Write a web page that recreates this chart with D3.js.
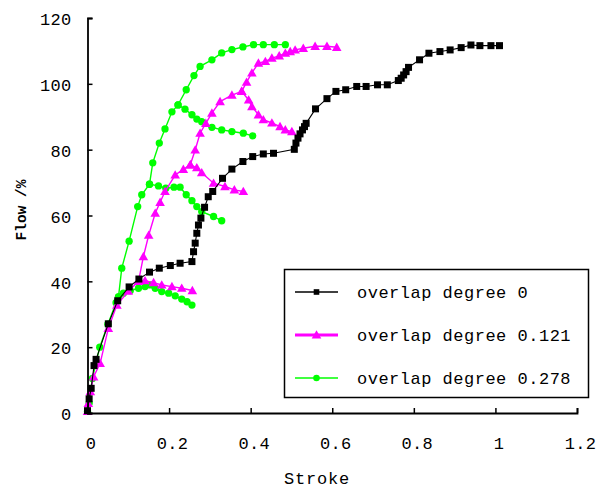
<!DOCTYPE html>
<html><head><meta charset="utf-8">
<script src="https://cdn.jsdelivr.net/npm/d3@7"></script>
<style>
body{margin:0;background:#fff;}
svg{display:block;}
text{font-family:"Liberation Mono","DejaVu Sans Mono",monospace;fill:#000;}
</style></head>
<body><svg id="c" width="610" height="488"></svg>
<script>
// ---- data ----
const xTicks = [0, 0.2, 0.4, 0.6, 0.8, 1, 1.2];
const yTicks = [0, 20, 40, 60, 80, 100, 120];
const seriesNames = ["overlap degree 0", "overlap degree 0.121", "overlap degree 0.278"];

const black0 = [[0,0.7],[0.004,4.3],[0.009,7.5],[0.016,14.4],[0.021,16.3],[0.051,27.1],[0.074,34.1],[0.102,38.3],[0.126,40.7],[0.152,42.8],[0.176,44],[0.203,44.8],[0.227,45.5],[0.256,46],[0.26,49],[0.264,51.6],[0.268,54.6],[0.272,57.1],[0.278,59.2],[0.287,62.5],[0.296,65.7],[0.307,67.3],[0.331,71.3],[0.354,74.1],[0.381,76.4],[0.405,77.9],[0.431,78.7],[0.456,78.9],[0.507,80.1],[0.511,82],[0.516,83.5],[0.521,84.8],[0.527,86],[0.532,87],[0.536,88],[0.559,92.4],[0.587,95.5],[0.609,97.7],[0.633,98.2],[0.66,99.2],[0.683,99.2],[0.711,99.7],[0.735,99.7],[0.762,101],[0.769,101.7],[0.775,102.7],[0.781,103.7],[0.787,105],[0.814,107.3],[0.837,109.3],[0.864,109.8],[0.889,110.3],[0.916,111],[0.94,111.8],[0.962,111.6],[0.989,111.6],[1.01,111.6]];

const magentaMain = [[0,0.5],[0.002,2.9],[0.007,6.5],[0.015,11],[0.031,15.1],[0.051,25.7],[0.072,32.8],[0.1,37],[0.125,40],[0.137,47.5],[0.15,54],[0.166,60.7],[0.178,64],[0.19,67.3],[0.215,72.3],[0.235,74],[0.252,75.4],[0.264,79.9],[0.276,85],[0.29,88],[0.305,91.1],[0.325,94.6],[0.354,96.6],[0.378,97.7],[0.39,100.5],[0.403,103.3],[0.419,106.3],[0.436,106.8],[0.452,107.8],[0.47,108.5],[0.485,109.3],[0.497,109.8],[0.509,110.3],[0.529,110.8],[0.558,111.4],[0.587,111.4],[0.611,111.1]];
const magentaLow = [[0.125,40],[0.141,40.2],[0.162,39.6],[0.182,38.9],[0.207,38.4],[0.231,37.9],[0.257,37.2]];
const magentaMid = [[0.252,75.4],[0.268,74.5],[0.28,73],[0.309,69.8],[0.337,68.8],[0.36,67.8],[0.382,67.3]];
const magentaUp = [[0.378,97.7],[0.395,95.1],[0.403,93.1],[0.419,90.6],[0.431,89.1],[0.452,88.1],[0.472,87],[0.485,86],[0.501,85.5]];

const greenMain = [[0,0.5],[0.004,3],[0.012,10.5],[0.03,20],[0.05,27],[0.07,33.5],[0.076,35.3],[0.084,44],[0.102,52.2],[0.123,62.7],[0.133,66.3],[0.152,69.5],[0.16,76],[0.176,82],[0.19,86.3],[0.207,91.5],[0.222,93.6],[0.242,98.2],[0.261,102.5],[0.276,105.3],[0.305,107.3],[0.329,109.4],[0.354,110.4],[0.381,111.2],[0.407,111.9],[0.431,111.9],[0.458,111.9],[0.485,111.9]];
const greenLow = [[0.076,35.3],[0.088,36.4],[0.105,37.2],[0.125,37.9],[0.141,38.4],[0.154,38.9],[0.166,37.9],[0.182,36.9],[0.199,36.4],[0.215,35.6],[0.231,34.6],[0.244,33.8],[0.256,32.8]];
const greenMid = [[0.152,69.5],[0.174,69],[0.192,68.3],[0.212,68.6],[0.227,68.6],[0.242,66.3],[0.256,64.5],[0.268,62.7],[0.28,61.2],[0.309,59.7],[0.329,58.4]];
const greenUp = [[0.222,93.6],[0.239,92.3],[0.256,90.6],[0.268,89.3],[0.28,88.5],[0.305,86.8],[0.329,86],[0.354,85.5],[0.382,85],[0.405,84.2]];

// ---- chart ----
const svg = d3.select("#c");
const x = d3.scaleLinear().domain([0,1.2]).range([87.5,577]);
const y = d3.scaleLinear().domain([0,120]).range([413,18]);

const line = d3.line().x(d=>x(d[0])).y(d=>y(d[1]));

const series = [
  {segs:[greenMain,greenLow,greenMid,greenUp], color:"#00FF00", width:1.4, marker:"circle"},
  {segs:[magentaMain,magentaLow,magentaMid,magentaUp], color:"#FF00FF", width:1.4, marker:"triangle"},
  {segs:[black0], color:"#000000", width:1.1, marker:"square"}
];

function drawMarker(g, type, cx, cy, color, scale){
  scale = scale || 1;
  if(type==="square"){
    const s=7*scale;
    g.append("rect").attr("x",cx-s/2).attr("y",cy-s/2).attr("width",s).attr("height",s).attr("fill",color);
  } else if(type==="triangle"){
    const s=4.8*scale;
    g.append("path").attr("d",`M${cx},${cy-s}L${cx+s},${cy+s*0.75}L${cx-s},${cy+s*0.75}Z`).attr("fill",color);
  } else {
    g.append("path").attr("d",d3.symbol(d3.symbolCircle, 42*scale*scale)()).attr("transform",`translate(${cx},${cy})`).attr("fill",color);
  }
}

series.forEach(s=>{
  const g = svg.append("g");
  s.segs.forEach(seg=>{
    g.append("path").datum(seg).attr("d",line).attr("fill","none").attr("stroke",s.color).attr("stroke-width",s.width);
  });
  s.segs.forEach(seg=>{
    seg.forEach(d=>drawMarker(g, s.marker, x(d[0]), y(d[1]), s.color));
  });
});

// axes
const ax = svg.append("g").attr("transform","translate(0,413)")
  .call(d3.axisBottom(x).tickValues(xTicks).tickSize(-5).tickFormat(d=>String(d)).tickPadding(24));
const ay = svg.append("g").attr("transform","translate(87.5,0)")
  .call(d3.axisLeft(y).tickValues(yTicks).tickSize(-5).tickFormat(d=>String(d)).tickPadding(16));
[ax,ay].forEach(a=>{
  a.select(".domain").attr("stroke","#000").attr("stroke-width",1.8);
  a.selectAll(".tick line").attr("stroke","#000").attr("stroke-width",1.5);
  a.selectAll(".tick text").attr("font-family","Liberation Mono, monospace").attr("font-size",17).style("letter-spacing","0.3px").attr("fill","#000");
});
ax.selectAll(".tick text").attr("dx","3px");
ay.selectAll(".tick text").attr("dy","0.4em");

// axis titles
svg.append("text").attr("x",317).attr("y",484).attr("text-anchor","middle")
  .attr("font-size",17).style("letter-spacing","0.8px").text("Stroke");
svg.append("text").attr("transform","translate(26,210) rotate(-90)").attr("text-anchor","middle")
  .attr("font-size",14.5).attr("font-weight","bold").text("Flow /%");

// legend
const lg = svg.append("g");
lg.append("rect").attr("x",284.5).attr("y",269.5).attr("width",304).attr("height",128)
  .attr("fill","#fff").attr("stroke","#000").attr("stroke-width",1.5);
const legendItems = [
  {name:seriesNames[0], color:"#000000", marker:"square", w:1.3, ms:0.8},
  {name:seriesNames[1], color:"#FF00FF", marker:"triangle", w:3, ms:1},
  {name:seriesNames[2], color:"#00FF00", marker:"circle", w:1.5, ms:0.9}
];
const ly = d3.scalePoint().domain(legendItems.map(d=>d.name)).range([292,378]);
legendItems.forEach(it=>{
  const yy = ly(it.name);
  lg.append("line").attr("x1",295).attr("x2",338).attr("y1",yy).attr("y2",yy).attr("stroke",it.color).attr("stroke-width",it.w);
  drawMarker(lg, it.marker, 316.5, yy, it.color, it.ms);
  lg.append("text").attr("x",357).attr("y",yy+6).attr("font-size",17).style("letter-spacing","0.5px").text(it.name);
});
</script>
</body></html>
